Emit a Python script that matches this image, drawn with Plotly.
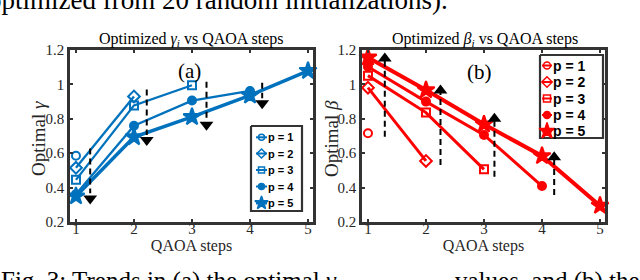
import plotly.graph_objects as go

# ---------------- data ----------------
labels = ["p = 1", "p = 2", "p = 3", "p = 4", "p = 5"]

gamma_p1 = [0.585]
gamma_p2 = [0.515, 0.930]
gamma_p3 = [0.445, 0.878, 0.995]
gamma_p4 = [0.362, 0.760, 0.906, 0.962]
gamma_p5 = [0.350, 0.694, 0.811, 0.936, 1.079]

beta_p1 = [0.716]
beta_p2 = [0.981, 0.555]
beta_p3 = [1.051, 0.836, 0.506]
beta_p4 = [1.103, 0.900, 0.706, 0.409]
beta_p5 = [1.157, 0.967, 0.768, 0.584, 0.295]

steps = [1, 2, 3, 4, 5]

gamma_arrow_x = [1.245, 2.22, 3.25, 4.21]
gamma_arrow_start = [0.628, 0.971, 1.016, 1.010]
gamma_arrow_end = [0.367, 0.706, 0.793, 0.919]
gamma_arrow_head = [0.336, 0.677, 0.766, 0.890]

beta_arrow_x = [1.29, 2.25, 3.18, 4.21]
beta_arrow_start = [0.696, 0.531, 0.463, 0.357]
beta_arrow_end = [1.140, 0.955, 0.790, 0.566]
beta_arrow_head = [1.150, 0.964, 0.800, 0.576]

yticks = [0.2, 0.4, 0.6, 0.8, 1.0, 1.2]
ytick_text = ["0.2", "0.4", "0.6", "0.8", "1", "1.2"]

# ---------------- style ----------------
BLUE = "#0072BD"
RED = "#FF0000"
SERIF = "Liberation Serif, Times New Roman, serif"
SANS = "Liberation Sans, Arial, sans-serif"
AXC = "#333333"
TXT = "#262626"
symbols = ["circle-open", "diamond-open", "square-open", "circle", "star"]
msizes = [8, 9, 8, 8, 13]

W, H = 640, 280
top, bot = 50, 222
XR = [0.897, 5.086]
YR = [0.2, 1.2]

def px(x):
    return x / W

def py(y):
    return (bot - y) / (bot - top)

fig = go.Figure()

gam = [gamma_p1, gamma_p2, gamma_p3, gamma_p4, gamma_p5]
bet = [beta_p1, beta_p2, beta_p3, beta_p4, beta_p5]

for i, ys in enumerate(gam):
    fig.add_trace(go.Scatter(
        x=steps[:len(ys)], y=ys, mode="lines+markers", name=labels[i],
        line=dict(color=BLUE, width=3.5 if i == 4 else 2.3),
        marker=dict(symbol=symbols[i], size=msizes[i], color=BLUE,
                    line=dict(color=BLUE, width=2)),
        xaxis="x", yaxis="y", showlegend=False, cliponaxis=False))

for i, ys in enumerate(bet):
    fig.add_trace(go.Scatter(
        x=steps[:len(ys)], y=ys, mode="lines+markers", name=labels[i],
        line=dict(color=RED, width=4 if i == 4 else 3),
        marker=dict(symbol=symbols[i], size=msizes[i], color=RED,
                    line=dict(color=RED, width=2)),
        xaxis="x2", yaxis="y2", showlegend=False, cliponaxis=False))

def arrows(xs, y0s, y1s, heads, sym, xa, ya):
    lx, ly = [], []
    for x, a, b in zip(xs, y0s, y1s):
        lx += [x, x, None]
        ly += [a, b, None]
    fig.add_trace(go.Scatter(x=lx, y=ly, mode="lines", showlegend=False,
                             line=dict(color="black", width=2, dash="6px,4px"),
                             xaxis=xa, yaxis=ya, hoverinfo="skip"))
    fig.add_trace(go.Scatter(x=xs, y=heads, mode="markers", showlegend=False,
                             marker=dict(symbol=sym, size=12, color="black"),
                             xaxis=xa, yaxis=ya, hoverinfo="skip"))

arrows(gamma_arrow_x, gamma_arrow_start, gamma_arrow_end, gamma_arrow_head,
       "triangle-down", "x", "y")
arrows(beta_arrow_x, beta_arrow_start, beta_arrow_end, beta_arrow_head,
       "triangle-up", "x2", "y2")

# invisible anchors for the tick-label axes
fig.add_trace(go.Scatter(x=[None], y=[None], xaxis="x3", yaxis="y", showlegend=False))
fig.add_trace(go.Scatter(x=[None], y=[None], xaxis="x4", yaxis="y2", showlegend=False))

# ---------------- custom legends (pixel overlay axes) ----------------
def legend(box, rows, x_line, x_text, color, msz, fsize, xa, ya):
    x0, x1, y0, y1 = box
    fig.add_trace(go.Scatter(x=[x0, x1, x1, x0, x0], y=[y0, y0, y1, y1, y0],
                             mode="lines", fill="toself", fillcolor="white",
                             line=dict(color=AXC, width=2.2), showlegend=False,
                             xaxis=xa, yaxis=ya, hoverinfo="skip"))
    for i, yy in enumerate(rows):
        fig.add_trace(go.Scatter(
            x=[x_line[0], x_line[1]], y=[yy, yy], mode="lines",
            line=dict(color=color, width=3 if i == 4 else 2),
            showlegend=False, xaxis=xa, yaxis=ya, hoverinfo="skip"))
        fig.add_trace(go.Scatter(
            x=[(x_line[0] + x_line[1]) / 2], y=[yy], mode="markers",
            marker=dict(symbol=symbols[i], size=msz[i], color=color,
                        line=dict(color=color, width=1.5)),
            showlegend=False, xaxis=xa, yaxis=ya, hoverinfo="skip"))
        fig.add_annotation(x=x_text, y=yy, xref=xa, yref=ya, text="<b>" + labels[i] + "</b>",
                           xanchor="left", yanchor="middle", showarrow=False,
                           font=dict(family=SANS, size=fsize, color="black"))

legend((251, 302, 126, 211), [137.3, 153.5, 170, 186.5, 203], (256, 267), 265.5,
       BLUE, [6, 7, 6, 6, 10], 11, "x5", "y5")
legend((540, 603, 55, 138), [65.5, 82, 98.5, 115, 131], (542, 552), 551,
       RED, [7, 8, 7, 7, 12], 14, "x6", "y6")

axis_common = dict(
    showline=True, linecolor=AXC, linewidth=2.5, mirror="ticks",
    ticks="inside", ticklen=3, tickwidth=2, tickcolor=AXC,
    showgrid=False, zeroline=False,
    tickfont=dict(family=SERIF, size=15, color=TXT),
)
label_axis = dict(
    showline=False, ticks="", showgrid=False, zeroline=False,
    tickfont=dict(family=SERIF, size=15, color=TXT),
    anchor="free", position=0.026,
    range=XR, tickvals=steps,
    title=dict(text="QAOA steps", font=dict(family=SERIF, size=16, color=TXT), standoff=3),
)
hidden = dict(visible=False, showgrid=False, zeroline=False)

fig.update_layout(
    width=W, height=H,
    margin=dict(l=0, r=0, t=top, b=H - bot, autoexpand=False),
    paper_bgcolor="white", plot_bgcolor="rgba(0,0,0,0)",
    showlegend=False,
    xaxis=dict(domain=[px(70), px(313)], range=XR, tickvals=steps, anchor="y",
               showticklabels=False, **axis_common),
    yaxis=dict(domain=[0, 1], range=YR, tickvals=yticks, ticktext=ytick_text, anchor="x",
               **axis_common),
    xaxis2=dict(domain=[px(362), px(605)], range=XR, tickvals=steps, anchor="y2",
                showticklabels=False, **axis_common),
    yaxis2=dict(domain=[0, 1], range=YR, tickvals=yticks, ticktext=ytick_text, anchor="x2",
                **axis_common),
    xaxis3=dict(overlaying="x", **label_axis),
    xaxis4=dict(overlaying="x2", **label_axis),
    xaxis5=dict(overlaying="x", range=[70, 313], **hidden),
    yaxis5=dict(overlaying="y", range=[222, 50], **hidden),
    xaxis6=dict(overlaying="x2", range=[362, 605], **hidden),
    yaxis6=dict(overlaying="y2", range=[222, 50], **hidden),
)

annots = [
    dict(x=px(191), y=py(39), text="Optimized <i>γ<sub>i</sub></i> vs QAOA steps",
         font=dict(family=SERIF, size=16, color="black")),
    dict(x=px(485), y=py(39), text="Optimized <i>β<sub>i</sub></i> vs QAOA steps",
         font=dict(family=SERIF, size=16, color="black")),
    dict(x=px(38), y=py(139), text="Optimal <i>γ</i>", textangle=-90,
         font=dict(family=SERIF, size=19, color=TXT)),
    dict(x=px(331), y=py(139), text="Optimal <i>β</i>", textangle=-90,
         font=dict(family=SERIF, size=19, color=TXT)),
    dict(x=2.95, y=1.08, xref="x", yref="y", text="(a)",
         font=dict(family=SERIF, size=21, color="black")),
    dict(x=2.92, y=1.07, xref="x2", yref="y2", text="(b)",
         font=dict(family=SERIF, size=21, color="black")),
    dict(x=px(-14), y=py(17), xanchor="left", yanchor="bottom",
         text="optimized from 20 random initializations).",
         font=dict(family=SERIF, size=27, color="black")),
    dict(x=px(-1), y=py(265), xanchor="left", yanchor="top",
         text="Fig. 3: Trends in (a) the optimal <i>γ</i>",
         font=dict(family=SERIF, size=25, color="black")),
    dict(x=px(453), y=py(265), xanchor="left", yanchor="top",
         text="values, and (b) the",
         font=dict(family=SERIF, size=25, color="black")),
]
for a in annots:
    a.setdefault("xref", "paper")
    a.setdefault("yref", "paper")
    a.setdefault("xanchor", "center")
    a.setdefault("yanchor", "middle")
    a.setdefault("showarrow", False)
    fig.add_annotation(**a)

fig.write_html("out.html", config={"displayModeBar": False},
               post_script="document.body.style.margin='0';document.body.style.overflow='hidden';")
